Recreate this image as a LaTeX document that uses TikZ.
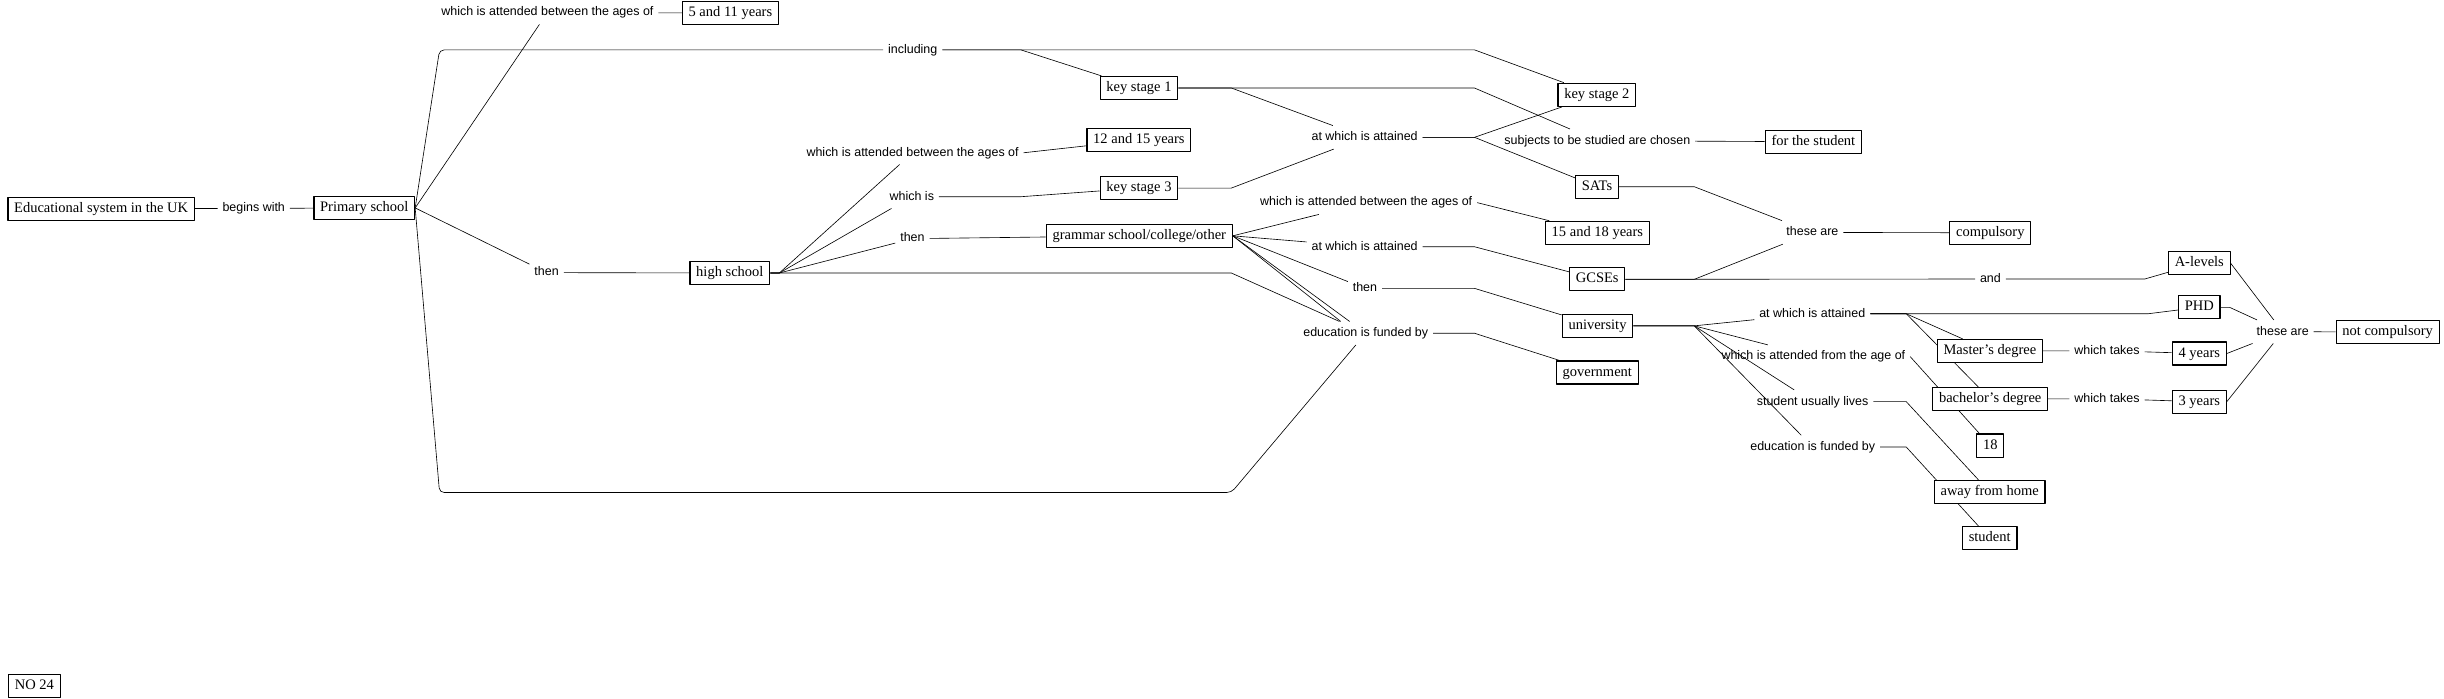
\documentclass[tikz,border=0pt]{standalone}
\usepackage{fontspec}
\setmainfont{Liberation Serif}
\newfontfamily\linkfont{Liberation Sans}
\usetikzlibrary{backgrounds}

\tikzset{
  concept/.style={draw, fill=white, line width=0.75pt, inner xsep=4pt, inner ysep=0pt,
    minimum height=14.8pt, text height=6.5pt, text depth=2pt,
    font=\fontsize{9.3}{11}\selectfont},
  linkph/.style={inner xsep=3pt, inner ysep=3.5pt, text height=6pt, text depth=1.7pt,
    font=\linkfont\fontsize{8}{9.6}\selectfont},
  link/.style={line width=0.75pt}
}

\begin{document}
\begin{tikzpicture}[x=1pt, y=-1pt, line cap=round, line join=round]
  \useasboundingbox (0,0) rectangle (1568,448);
  % columns where the links bend
  \coordinate (c283) at (282,0);
  \coordinate (c500) at (500,0);
  \coordinate (c655) at (655,0);
  \coordinate (c790) at (790,0);
  \coordinate (c946) at (946,0);
  \coordinate (c1087) at (1087,0);
  \coordinate (c1223) at (1223,0);
  \coordinate (c1376) at (1376,0);
  \coordinate (c1378) at (1378,0);
  \coordinate (c1430) at (1430.5,0);
  \coordinate (low) at (790,316);

  % concepts
  \node[concept] (edu) at (64.9,133.9) {Educational system in the UK};
  \node[concept] (prim) at (233.7,133.4) {Primary school};
  \node[concept] (fiveyr) at (468.6,8.35) {5 and 11 years};
  \node[concept] (high) at (468.25,175.15) {high school};
  \node[concept] (ks1) at (730.7,56.45) {key stage 1};
  \node[concept] (twelveyr) at (730.7,89.8) {12 and 15 years};
  \node[concept] (ks3) at (730.7,120.65) {key stage 3};
  \node[concept] (gram) at (730.9,151.3) {grammar school/college/other};
  \node[concept] (ks2) at (1024.5,60.8) {key stage 2};
  \node[concept] (sats) at (1024.55,119.8) {SATs};
  \node[concept] (fifteenyr) at (1024.85,149.4) {15 and 18 years};
  \node[concept] (gcse) at (1024.75,179.2) {GCSEs};
  \node[concept] (univ) at (1024.9,209.05) {university};
  \node[concept] (gov) at (1024.8,239) {government};
  \node[concept] (fts) at (1163.4,90.9) {for the student};
  \node[concept] (comp) at (1276.9,149.35) {compulsory};
  \node[concept] (master) at (1276.65,225.2) {Master's degree};
  \node[concept] (bach) at (1276.85,256) {bachelor's degree};
  \node[concept] (eighteen) at (1276.9,285.85) {18};
  \node[concept] (away) at (1276.5,315.65) {away from home};
  \node[concept] (stud) at (1276.55,345.4) {student};
  \node[concept] (alev) at (1411,168.9) {A-levels};
  \node[concept] (phd) at (1411,197.2) {PHD};
  \node[concept] (fouryr) at (1410.95,226.8) {4 years};
  \node[concept] (threeyr) at (1410.95,257.7) {3 years};
  \node[concept] (notcomp) at (1531.85,213) {not compulsory};
  \node[concept] (no) at (22.1,439.9) {NO 24};

  % linking phrases
  \node[linkph] (begins) at (162.8,133.7) {begins with};
  \node[linkph] (agesA) at (351.2,8.1) {which is attended between the ages of};
  \node[linkph] (thenA) at (350.7,174.9) {then};
  \node[linkph] (incl) at (585.6,32) {including};
  \node[linkph] (agesB) at (585.5,98) {which is attended between the ages of};
  \node[linkph] (whichis) at (585,126.2) {which is};
  \node[linkph] (thenB) at (585.4,153.1) {then};
  \node[linkph] (attA) at (875.5,88.1) {at which is attained};
  \node[linkph] (agesC) at (876.5,130) {which is attended between the ages of};
  \node[linkph] (attB) at (875.5,158.3) {at which is attained};
  \node[linkph] (thenC) at (875.7,185) {then};
  \node[linkph] (fundA) at (876.2,213.8) {education is funded by};
  \node[linkph] (subj) at (1024.8,90.3) {subjects to be studied are chosen};
  \node[linkph] (these) at (1162.8,149.1) {these are};
  \node[linkph] (attC) at (1162.7,201.3) {at which is attained};
  \node[linkph] (agefrom) at (1163.4,228.8) {which is attended from the age of};
  \node[linkph] (lives) at (1162.9,257.7) {student usually lives};
  \node[linkph] (fundB) at (1163,286.8) {education is funded by};
  \node[linkph] (andl) at (1277,179) {and};
  \node[linkph] (takesA) at (1351.8,225) {which takes};
  \node[linkph] (takesB) at (1351.8,255.8) {which takes};
  \node[linkph] (theseB) at (1464.5,212.8) {these are};

  % links, kept behind the boxes
  \begin{scope}[on background layer, link]
    \draw (edu) -- (begins);
    \draw (begins) -- (prim);
    \draw (prim.east) -- (agesA);
    \draw (agesA) -- (fiveyr);
    \draw[rounded corners=3pt] (prim.east) -- (c283 |- incl) -- (incl);
    \draw (prim.east) -- (thenA);
    \draw (thenA) -- (high);
    \draw[rounded corners=3pt] (prim.east) -- (c283 |- low) -- (low) -- (fundA);
    \draw (incl.east) -- (incl.east -| c655) -- (ks1);
    \draw (incl.east) -- (incl.east -| c946) -- (ks2);
    % high school fan
    \foreach \target in {agesB,whichis,thenB}
      \draw (high.east) -- (high.east -| c500) -- (\target);
    \draw (high.east) -- (high.east -| c790) -- (fundA);
    \draw (agesB.east) -- (twelveyr);
    \draw (whichis.east) -- (whichis.east -| c655) -- (ks3);
    \draw (thenB) -- (gram);
    % key stages
    \draw (ks1.east) -- (ks1.east -| c790) -- (attA);
    \draw (ks1.east) -- (ks1.east -| c946) -- (subj);
    \draw (ks3.east) -- (ks3.east -| c790) -- (attA);
    \draw (attA.east) -- (attA.east -| c946) -- (ks2);
    \draw (attA.east) -- (attA.east -| c946) -- (sats);
    \draw (subj) -- (fts);
    % grammar school fan
    \foreach \target in {agesC,attB,thenC,fundA}
      \draw (gram.east) -- (\target);
    \draw (gram.east) -- ([xshift=-16pt]fundA.north);
    \draw (agesC.east) -- (fifteenyr);
    \draw (attB.east) -- (attB.east -| c946) -- (gcse);
    \draw (thenC.east) -- (thenC.east -| c946) -- (univ);
    \draw (fundA.east) -- (fundA.east -| c946) -- (gov);
    % exams
    \draw (sats.east) -- (sats.east -| c1087) -- (these);
    \draw (gcse.east) -- (gcse.east -| c1087) -- (these);
    \draw (these) -- (comp);
    \draw (gcse) -- (andl);
    \draw (andl.east) -- (andl.east -| c1376) -- (alev);
    % university fan
    \foreach \target in {attC,agefrom,lives,fundB}
      \draw (univ.east) -- (univ.east -| c1087) -- (\target);
    \draw (attC.east) -- (attC.east -| c1378) -- (phd);
    \draw (attC.east) -- (attC.east -| c1223) -- (master);
    \draw (attC.east) -- (attC.east -| c1223) -- (bach);
    \draw (agefrom.east) -- (eighteen);
    \draw (lives.east) -- (lives.east -| c1223) -- (away);
    \draw (fundB.east) -- (fundB.east -| c1223) -- (stud);
    \draw (master) -- (takesA);
    \draw (takesA) -- (fouryr);
    \draw (bach) -- (takesB);
    \draw (takesB) -- (threeyr);
    % not compulsory
    \draw (alev.east) -- (theseB);
    \draw (phd.east) -- (phd.east -| c1430) -- (theseB);
    \draw (fouryr.east) -- (theseB);
    \draw (threeyr.east) -- (theseB);
    \draw (theseB) -- (notcomp);
  \end{scope}
\end{tikzpicture}
\end{document}
